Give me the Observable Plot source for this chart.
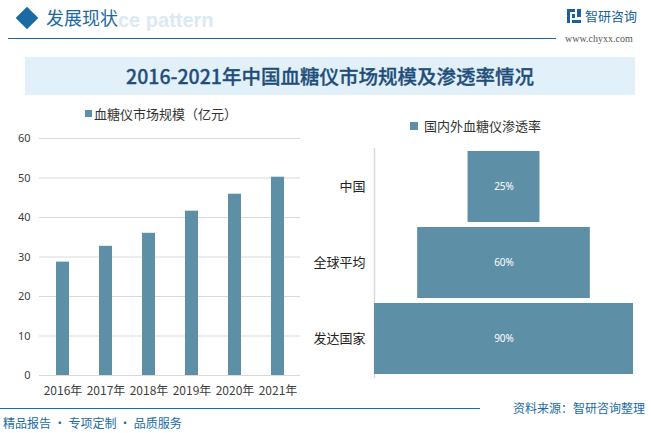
<!DOCTYPE html>
<html><head><meta charset="utf-8">
<script src="https://cdn.jsdelivr.net/npm/d3@7"></script>
<script src="https://cdn.jsdelivr.net/npm/@observablehq/plot@0.6"></script>
<style>
body{margin:0;width:651px;height:433px;position:relative;overflow:hidden;background:#fff;font-family:"Noto Sans CJK SC","Noto Sans",sans-serif;}
.abs{position:absolute;white-space:nowrap;line-height:1;}
#left,#right{position:absolute;}
#left{left:0;top:130px;}
#right{left:310px;top:140px;}
</style></head><body>
<script>
const years = ["2016年","2017年","2018年","2019年","2020年","2021年"];
const marketSize = [28.7, 32.7, 36.0, 41.6, 45.9, 50.2];
const yTicks = [0, 10, 20, 30, 40, 50, 60];
const regions = ["中国","全球平均","发达国家"];
const penetration = [25, 60, 90];
const barColor = "#5d90a7";
</script>

<!-- header -->
<div class="abs" style="left:19px;top:10px;width:16px;height:16px;background:#1b6aa5;transform:rotate(45deg);"></div>
<div class="abs" style="left:118px;top:9px;font:bold 20px Arial,'Liberation Sans',sans-serif;color:#dce9f3;">ce pattern</div>
<div class="abs" style="left:46px;top:8px;font-size:18px;color:#1b6aa5;">发展现状</div>
<div class="abs" style="left:8px;top:38px;width:548px;height:1px;background:#1b6aa5;"></div>
<svg class="abs" style="left:567px;top:9px;" width="14" height="14" viewBox="0 0 14 14">
  <rect x="0" y="0" width="8" height="3" fill="#1b5fa0"/><rect x="0" y="0" width="3" height="14" fill="#1b5fa0"/>
  <rect x="5" y="5" width="3" height="4" fill="#1b5fa0"/><rect x="10" y="0" width="4" height="8" fill="#1b5fa0"/>
  <rect x="5" y="11" width="9" height="3" fill="#1b5fa0"/>
</svg>
<div class="abs" style="left:585px;top:9px;font-size:13px;color:#1b5fa0;">智研咨询</div>
<div class="abs" style="left:565px;top:33px;font:10px 'Liberation Serif','DejaVu Serif',serif;color:#555;">www.chyxx.com</div>

<!-- title band -->
<div class="abs" style="left:25px;top:57px;width:610px;height:38px;background:#e2f0f9;"></div>
<div class="abs" style="left:25px;top:66px;width:610px;text-align:center;font-size:19.5px;font-weight:500;color:#1f4e79;-webkit-text-stroke:0.3px #1f4e79;">2016-2021年中国血糖仪市场规模及渗透率情况</div>

<!-- legends -->
<div class="abs" style="left:85px;top:107px;font-size:13px;color:#333;"><span style="display:inline-block;width:7px;height:7px;background:#5d90a7;margin-right:2px;vertical-align:2px;"></span>血糖仪市场规模（亿元）</div>
<div class="abs" style="left:410px;top:119px;font-size:13px;color:#333;"><span style="display:inline-block;width:8px;height:8px;background:#5d90a7;margin-right:6px;vertical-align:1px;"></span>国内外血糖仪渗透率</div>

<div id="left"></div>
<div id="right"></div>

<!-- footer -->
<div class="abs" style="left:0;top:408px;width:480px;height:1px;background:#1b6aa5;"></div>
<div class="abs" style="left:500px;top:402px;width:145px;text-align:right;font-size:12px;color:#1b6aa5;">资料来源：智研咨询整理</div>
<div class="abs" style="left:3px;top:417px;font-size:12px;color:#1b6aa5;">精品报告 · 专项定制 · 品质服务</div>

<script>
const marketData = years.map((y, i) => ({year: y, value: marketSize[i]}));
const left = Plot.plot({
  width: 310, height: 275,
  marginLeft: 39, marginRight: 10, marginTop: 8, marginBottom: 30,
  style: {color: "#404040", fontFamily: "'Noto Sans','DejaVu Sans',sans-serif", background: "transparent"},
  x: {domain: years, paddingInner: 0.7, paddingOuter: 0.35, axis: null},
  y: {domain: [0, 60], axis: null},
  marks: [
    Plot.gridY(yTicks, {stroke: "#d9d9d9", strokeOpacity: 1}),
    Plot.barY(marketData, {x: "year", y: "value", fill: barColor}),
    Plot.axisY(yTicks, {tickSize: 0, tickPadding: 9, fontSize: 11, label: null}),
    Plot.axisX({tickSize: 0, tickPadding: 11, fontSize: 12, fontFamily: "'Noto Sans CJK SC',sans-serif", label: null})
  ]
});
document.getElementById("left").append(left);

const penData = regions.map((r, i) => ({region: r, value: penetration[i]}));
const right = Plot.plot({
  width: 341, height: 250,
  marginLeft: 64, marginRight: 18, marginTop: 8, marginBottom: 12,
  style: {color: "#222", fontFamily: "'Noto Sans CJK SC',sans-serif", background: "transparent"},
  x: {domain: [-45, 45], axis: null},
  y: {domain: regions, paddingInner: 0.06, paddingOuter: 0.03, axis: null},
  marks: [
    Plot.ruleX([-45], {stroke: "#d9d9d9", strokeWidth: 1.5}),
    Plot.barX(penData, {y: "region", x1: d => -d.value / 2, x2: d => d.value / 2, fill: barColor}),
    Plot.text(penData, {y: "region", x: 0, text: d => d.value + "%", fill: "white", fontSize: 10, fontFamily: "'Noto Sans',sans-serif"}),
    Plot.axisY({tickSize: 0, tickPadding: 9, fontSize: 13, label: null})
  ]
});
document.getElementById("right").append(right);
</script>
</body></html>
